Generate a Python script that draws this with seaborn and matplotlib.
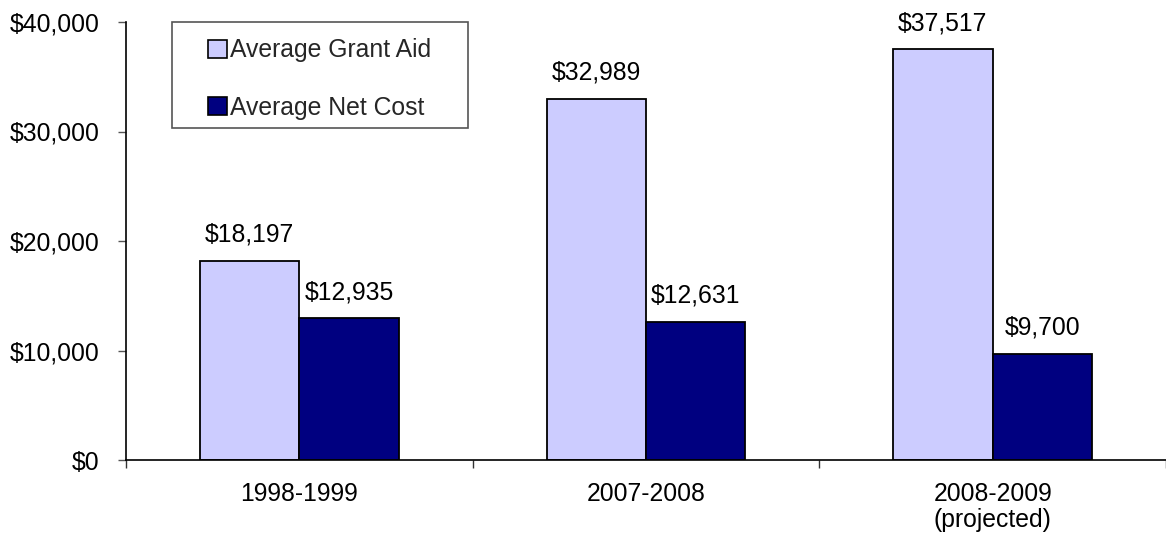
import matplotlib
matplotlib.use("Agg")
import matplotlib.pyplot as plt
from matplotlib.patches import Rectangle, Patch
from matplotlib.ticker import FuncFormatter, FixedLocator
import seaborn as sns
import pandas as pd

# Award-year groups and the two averages for each
years = ["1998-1999", "2007-2008", "2008-2009\n(projected)"]
grant_aid = [18197, 32989, 37517]
net_cost = [12935, 12631, 9700]
series = ["Average Grant Aid", "Average Net Cost"]
colors = ["#CCCCFF", "#000080"]

df = pd.DataFrame({
    "year": years * 2,
    "amount": grant_aid + net_cost,
    "series": [series[0]] * len(years) + [series[1]] * len(years),
})

sns.set_theme(style="white")
plt.rcParams["font.family"] = ["Liberation Sans", "DejaVu Sans"]
FS = 17.8

fig = plt.figure(figsize=(11.66, 5.38), dpi=100)
ax = fig.add_axes([126 / 1166, 1 - 460 / 538, 1040 / 1166, 438 / 538])

sns.barplot(data=df, x="year", y="amount", hue="series", palette=colors,
            width=0.574, edgecolor="black", linewidth=1.3, ax=ax,
            legend=False, saturation=1)

for cont in ax.containers:
    ax.bar_label(cont, fmt="${:,.0f}", padding=10, fontsize=FS, color="black")

ax.set_xlim(-0.5, 2.5)
ax.set_ylim(0, 40000)
ax.set_yticks([0, 10000, 20000, 30000, 40000])
ax.yaxis.set_major_formatter(FuncFormatter(lambda v, p: f"${v:,.0f}"))
ax.set_xlabel("")
ax.set_ylabel("")

for s in ["top", "right"]:
    ax.spines[s].set_visible(False)
for s in ["left", "bottom"]:
    ax.spines[s].set_color("black")
    ax.spines[s].set_linewidth(1.2)

ax.tick_params(axis="y", which="major", left=True, length=6, width=1,
               color="#555555", labelsize=FS, pad=13, labelcolor="black")
ax.tick_params(axis="x", which="major", bottom=False, length=0, labelsize=FS,
               pad=16, labelcolor="black")
for lab in ax.get_xticklabels():
    lab.set_linespacing(1.1)
ax.xaxis.set_minor_locator(FixedLocator([-0.5, 0.5, 1.5, 2.5]))
ax.tick_params(axis="x", which="minor", bottom=True, length=6, width=1,
               color="#333333")

# Legend box
ax.add_patch(Rectangle((0.044, 0.758), 0.285, 0.242, transform=ax.transAxes,
                       facecolor="white", edgecolor="#555555", linewidth=1.2,
                       zorder=5, clip_on=False))
handles = [Patch(facecolor=c, edgecolor="black", linewidth=1.2) for c in colors]
ax.legend(handles, series, loc="upper left", bbox_to_anchor=(0.079, 0.963),
          frameon=False, fontsize=FS, handlelength=0.75, handleheight=0.75,
          handletextpad=0.12, labelspacing=1.35, borderpad=0,
          borderaxespad=0).set_zorder(6)

fig.savefig("out.png", dpi=100, facecolor="white")
